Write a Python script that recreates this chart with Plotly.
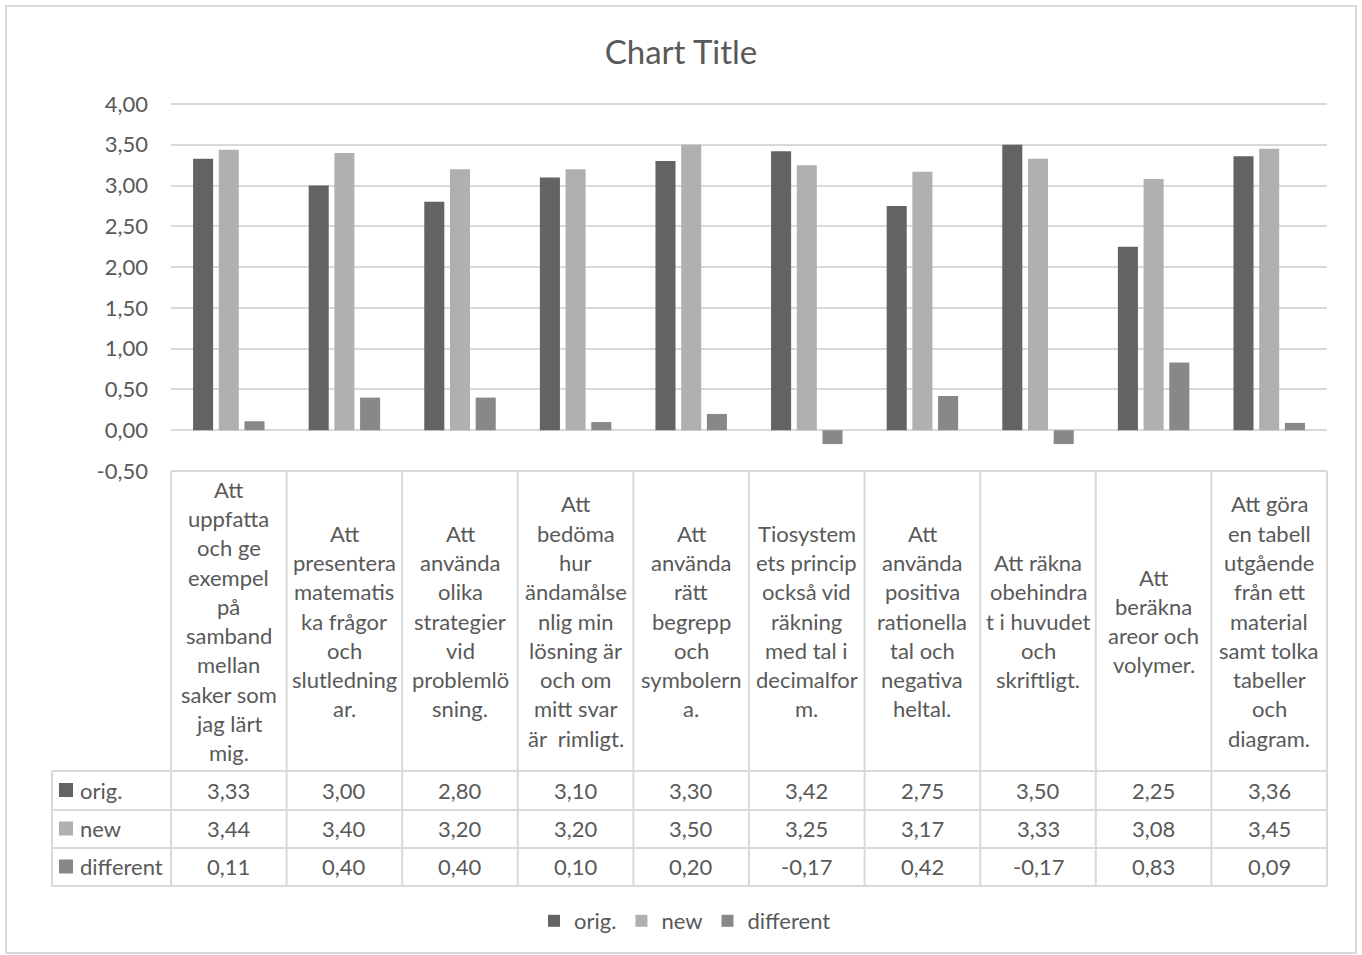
import plotly.graph_objects as go

# Chart data
categories = [
    "Att<br>uppfatta<br>och ge<br>exempel<br>på<br>samband<br>mellan<br>saker som<br>jag lärt<br>mig.",
    "Att<br>presentera<br>matematis<br>ka frågor<br>och<br>slutledning<br>ar.",
    "Att<br>använda<br>olika<br>strategier<br>vid<br>problemlö<br>sning.",
    "Att<br>bedöma<br>hur<br>ändamålse<br>nlig min<br>lösning är<br>och om<br>mitt svar<br>är  rimligt.",
    "Att<br>använda<br>rätt<br>begrepp<br>och<br>symbolern<br>a.",
    "Tiosystem<br>ets princip<br>också vid<br>räkning<br>med tal i<br>decimalfor<br>m.",
    "Att<br>använda<br>positiva<br>rationella<br>tal och<br>negativa<br>heltal.",
    "Att räkna<br>obehindra<br>t i huvudet<br>och<br>skriftligt.",
    "Att<br>beräkna<br>areor och<br>volymer.",
    "Att göra<br>en tabell<br>utgående<br>från ett<br>material<br>samt tolka<br>tabeller<br>och<br>diagram.",
]
orig = [3.33, 3.00, 2.80, 3.10, 3.30, 3.42, 2.75, 3.50, 2.25, 3.36]
new = [3.44, 3.40, 3.20, 3.20, 3.50, 3.25, 3.17, 3.33, 3.08, 3.45]
different = [0.11, 0.40, 0.40, 0.10, 0.20, -0.17, 0.42, -0.17, 0.83, 0.09]

series_names = ["orig.", "new", "different"]
series_values = [orig, new, different]
series_colors = ["#636363", "#b0b0b0", "#888888"]

y_ticks = [-0.5, 0.0, 0.5, 1.0, 1.5, 2.0, 2.5, 3.0, 3.5, 4.0]
y_ticktext = ["-0,50", "0,00", "0,50", "1,00", "1,50", "2,00", "2,50", "3,00", "3,50", "4,00"]

FONT = "Lato, 'Open Sans', sans-serif"
TXT = "#595959"
GRID = "#d9d9d9"
FS = 22

W, H = 1362, 955
PX_PER_UNIT = 367 / 4.5
HEADROOM = 3  # px of space above the 4,00 gridline so it is drawn
ML, MR, MT, MB = 171, 35, 104 - HEADROOM, 484
PW, PH = W - ML - MR, H - MT - MB
Y_MIN, Y_MAX = -0.5, 4.0 + HEADROOM / PX_PER_UNIT


def xp(px):
    return (px - ML) / PW


def yp(py):
    return (H - MB - py) / PH


def fmt(v):
    return f"{v:.2f}".replace(".", ",")


fig = go.Figure()
n = len(categories)
xs = list(range(n))
for name, vals, col in zip(series_names, series_values, series_colors):
    fig.add_trace(go.Bar(
        x=xs, y=vals, name=name,
        marker=dict(color=col, line=dict(width=0)),
        hoverinfo="skip",
    ))

shapes = []
annotations = []

# Data table geometry (pixels)
col_w = PW / n
table_top = H - MB
header_bottom = 771
row_lines = [771, 810, 848, 886]
left_edge = 52

line_style = dict(color=GRID, width=2)
# horizontal lines of the table
shapes.append(dict(type="line", xref="paper", yref="paper",
                   x0=xp(ML), x1=xp(ML + PW), y0=yp(table_top), y1=yp(table_top), line=line_style))
for ry in row_lines:
    shapes.append(dict(type="line", xref="paper", yref="paper",
                       x0=xp(left_edge), x1=xp(ML + PW), y0=yp(ry), y1=yp(ry), line=line_style))
# vertical lines
for k in range(n + 1):
    vx = ML + k * col_w
    shapes.append(dict(type="line", xref="paper", yref="paper",
                       x0=xp(vx), x1=xp(vx), y0=yp(table_top), y1=yp(row_lines[-1]), line=line_style))
shapes.append(dict(type="line", xref="paper", yref="paper",
                   x0=xp(left_edge), x1=xp(left_edge), y0=yp(row_lines[0]), y1=yp(row_lines[-1]), line=line_style))

# Outer chart border
shapes.append(dict(type="rect", xref="paper", yref="paper",
                   x0=xp(6), x1=xp(1356), y0=yp(6), y1=yp(953),
                   line=dict(color=GRID, width=2), fillcolor="rgba(0,0,0,0)", layer="below"))

# Category header text, one annotation per line
line_h = 29.3
header_center = (table_top + header_bottom) / 2
for i, cat in enumerate(categories):
    lines = cat.split("<br>")
    first = header_center - (len(lines) - 1) / 2 * line_h
    for j, ln in enumerate(lines):
        annotations.append(dict(
            x=i, xref="x", y=yp(first + j * line_h), yref="paper",
            text=ln, showarrow=False, xanchor="center", yanchor="middle",
            font=dict(family=FONT, size=FS, color=TXT),
        ))

# Value rows with legend keys
for r, (name, vals, col) in enumerate(zip(series_names, series_values, series_colors)):
    cy = (row_lines[r] + row_lines[r + 1]) / 2 - 0.5
    shapes.append(dict(type="rect", xref="paper", yref="paper",
                       x0=xp(59), x1=xp(73), y0=yp(cy - 7), y1=yp(cy + 7),
                       fillcolor=col, line=dict(width=0)))
    annotations.append(dict(
        x=xp(78), xref="paper", y=yp(cy), yref="paper", text=name,
        showarrow=False, xanchor="left", yanchor="middle",
        font=dict(family=FONT, size=FS, color=TXT),
    ))
    for i, v in enumerate(vals):
        annotations.append(dict(
            x=i, xref="x", y=yp(cy), yref="paper",
            text=fmt(v),
            showarrow=False, xanchor="center", yanchor="middle",
            font=dict(family=FONT, size=FS, color=TXT),
        ))

fig.update_layout(
    width=W, height=H,
    margin=dict(l=ML, r=MR, t=MT, b=MB, autoexpand=False),
    paper_bgcolor="white", plot_bgcolor="white",
    barmode="group", bargap=0.333, bargroupgap=0.22,
    title=dict(text="Chart Title", x=0.5, xref="container", xanchor="center",
               y=1 - 52 / H, yref="container", yanchor="middle",
               font=dict(family=FONT, size=33, color=TXT)),
    font=dict(family=FONT, size=FS, color=TXT),
    xaxis=dict(range=[-0.5, n - 0.5], showticklabels=False, showgrid=False,
               zeroline=False, showline=False, ticks=""),
    yaxis=dict(range=[Y_MIN, Y_MAX], tickvals=y_ticks, ticktext=y_ticktext,
               showgrid=True, gridcolor=GRID, gridwidth=1.5,
               zeroline=True, zerolinecolor=GRID, zerolinewidth=1.5,
               showline=False, ticks="", ticklabelstandoff=22,
               tickfont=dict(family=FONT, size=FS, color=TXT)),
    legend=dict(orientation="h", x=xp(685), xanchor="center", xref="paper",
                y=yp(921), yanchor="middle", yref="paper",
                font=dict(family=FONT, size=FS, color=TXT),
                itemwidth=30, tracegroupgap=0, bgcolor="rgba(0,0,0,0)"),
    shapes=shapes,
    annotations=annotations,
)

fig.write_html("out.html")
